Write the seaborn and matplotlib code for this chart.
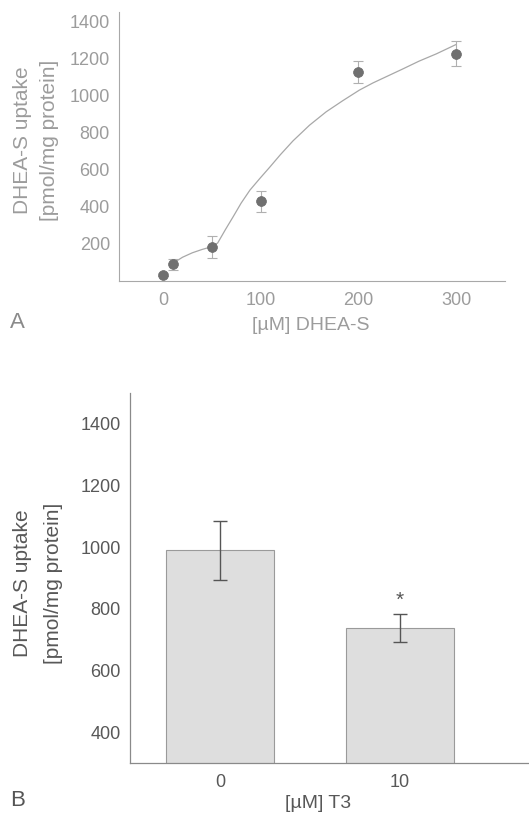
import matplotlib
matplotlib.use("Agg")
import matplotlib.pyplot as plt
import seaborn as sns
import pandas as pd

# ---- Panel A data ----
conc_a = [0, 10, 50, 100, 200, 300]
uptake_a = [35, 89, 184, 429, 1126, 1225]
err_a = [10, 31, 59, 56, 58, 66]
curve_x = [10, 20, 30, 40, 50, 56, 64, 72, 80, 89, 99, 109, 120, 133, 150, 167, 184, 201, 215, 230, 245, 262, 280, 300]
curve_y = [95, 128, 152, 170, 185, 205, 278, 348, 420, 490, 552, 612, 680, 755, 840, 912, 972, 1029, 1068, 1105, 1142, 1185, 1225, 1275]
yticks_a = [200, 400, 600, 800, 1000, 1200, 1400]
xticks_a = [0, 100, 200, 300]

# ---- Panel B data ----
t3_labels = ["0", "10"]
uptake_b = [990, 739]
err_b = [96, 45]
yticks_b = [400, 600, 800, 1000, 1200, 1400]

sns.set_theme(style="white")
plt.rcParams['font.family'] = ['Liberation Sans', 'DejaVu Sans']

W, H = 529, 813
fig = plt.figure(figsize=(W / 100, H / 100), dpi=100)

def box(l, t, r, b):
    return [l / W, 1 - b / H, (r - l) / W, (b - t) / H]

# ---------------- Panel A ----------------
lightgray = "#9c9c9c"
axA = fig.add_axes(box(119, 12, 505, 281))
dfA = pd.DataFrame({"conc": conc_a, "uptake": uptake_a})
dfC = pd.DataFrame({"x": curve_x, "y": curve_y})
sns.lineplot(data=dfC, x="x", y="y", ax=axA, color="#a8a8a8", linewidth=0.9, sort=False)
axA.errorbar(conc_a, uptake_a, yerr=err_a, fmt="none", ecolor="#b0b0b0",
             elinewidth=0.8, capsize=3.5, capthick=0.8, zorder=2)
sns.scatterplot(data=dfA, x="conc", y="uptake", ax=axA, color="#707070",
                s=50, edgecolor="#6a6a6a", linewidth=0.5, zorder=3)
axA.set_xlim(-45, 350)
axA.set_ylim(0, 1450)
axA.set_xticks(xticks_a)
axA.set_xticks([50, 150, 250, 350], minor=True)
axA.set_yticks(yticks_a)
axA.tick_params(axis="both", which="both", direction="out", colors="#b0b0b0",
                labelcolor=lightgray, labelsize=13, length=3, width=0.8)
axA.tick_params(axis="x", pad=5)
for s in ["top", "right"]:
    axA.spines[s].set_visible(False)
for s in ["left", "bottom"]:
    axA.spines[s].set_color("#a8a8a8")
    axA.spines[s].set_linewidth(0.8)
axA.set_xlabel("[µM] DHEA-S", fontsize=14, color=lightgray)
axA.xaxis.set_label_coords((311 - 119) / (505 - 119), -(325 - 281) / (281 - 12))
axA.xaxis.label.set_verticalalignment("center")
axA.set_ylabel("DHEA-S uptake\n[pmol/mg protein]", fontsize=15, color=lightgray,
               linespacing=1.5)
axA.yaxis.set_label_coords(-(119 - 36) / (505 - 119), (281 - 140) / (281 - 12))
axA.yaxis.label.set_verticalalignment("center")
fig.text(10 / W, 1 - 323 / H, "A", fontsize=16, color="#8a8a8a", va="center", ha="left")

# ---------------- Panel B ----------------
dark = "#585858"
axB = fig.add_axes(box(130, 393, 529, 763))
dfB = pd.DataFrame({"t3": t3_labels, "uptake": uptake_b})
sns.barplot(data=dfB, x="t3", y="uptake", ax=axB, order=t3_labels, color="#dedede",
            edgecolor="#9a9a9a", linewidth=0.8, width=0.6, errorbar=None, saturation=1)
axB.errorbar(range(len(t3_labels)), uptake_b, yerr=err_b, fmt="none", ecolor="#555555",
             elinewidth=1.0, capsize=5, capthick=1.0, zorder=3)
axB.text(1, uptake_b[1] + err_b[1] + 12, "*", ha="center", va="bottom",
         fontsize=15, color="#555555")
axB.set_xlim(-0.5, 1.72)
axB.set_ylim(300, 1500)
axB.set_yticks(yticks_b)
axB.tick_params(axis="y", direction="out", colors="#888888", labelcolor=dark,
                labelsize=13, length=3, width=0.8)
axB.tick_params(axis="x", length=0, labelcolor=dark, labelsize=13, pad=8)
for s in ["top", "right"]:
    axB.spines[s].set_visible(False)
for s in ["left", "bottom"]:
    axB.spines[s].set_color("#8a8a8a")
    axB.spines[s].set_linewidth(0.9)
axB.set_xlabel("[µM] T3", fontsize=14, color=dark)
axB.xaxis.set_label_coords((318 - 130) / (529 - 130), -(803 - 763) / (763 - 393))
axB.xaxis.label.set_verticalalignment("center")
axB.set_ylabel("DHEA-S uptake\n[pmol/mg protein]", fontsize=15, color=dark,
               linespacing=1.75)
axB.yaxis.set_label_coords(-(130 - 38) / (529 - 130), (763 - 583) / (763 - 393))
axB.yaxis.label.set_verticalalignment("center")
fig.text(10 / W, 1 - 800 / H, "B", fontsize=16, color="#555555", va="center", ha="left")

fig.savefig("out.png", dpi=100, facecolor="white")
